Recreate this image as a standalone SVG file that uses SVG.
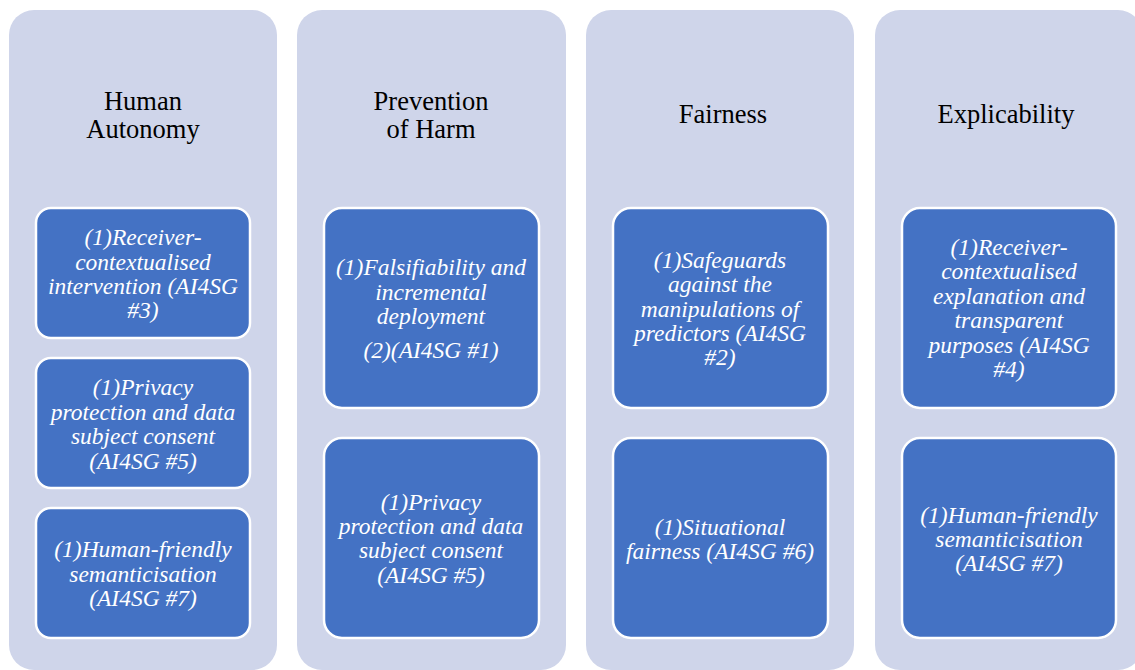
<svg xmlns="http://www.w3.org/2000/svg" width="1135" height="670" viewBox="0 0 1135 670">
<style>
.col{fill:#CFD5EA;}
.box{fill:#4472C4;stroke:#FFFFFF;stroke-width:2.5;}
.t{font-family:"Liberation Serif","Times New Roman",serif;font-size:26.5px;fill:#000;text-anchor:middle;}
.b{font-family:"Liberation Serif","Times New Roman",serif;font-size:23.5px;font-style:italic;fill:#FFFFFF;text-anchor:middle;}
</style>
<rect width="1135" height="670" fill="#FFFFFF"/>
<g id="col-autonomy">
<rect class="col" x="9" y="10" width="268" height="660" rx="25"/>
<text class="t" x="143" y="110">Human</text>
<text class="t" x="143" y="138">Autonomy</text>
</g>
<g id="col-harm">
<rect class="col" x="297" y="10" width="269" height="660" rx="25"/>
<text class="t" x="431" y="110">Prevention</text>
<text class="t" x="431" y="138">of Harm</text>
</g>
<g id="col-fairness">
<rect class="col" x="586" y="10" width="268" height="660" rx="25"/>
<text class="t" x="723" y="123">Fairness</text>
</g>
<g id="col-explicability">
<rect class="col" x="875" y="10" width="268" height="660" rx="25"/>
<text class="t" x="1006" y="123">Explicability</text>
</g>
<g id="n-a1">
<rect class="box" x="36" y="208" width="214" height="130" rx="15"/>
<text class="b" x="143" y="245">(1)Receiver-</text>
<text class="b" x="143" y="270">contextualised</text>
<text class="b" x="143" y="294">intervention (AI4SG</text>
<text class="b" x="143" y="318">#3)</text>
</g>
<g id="n-a2">
<rect class="box" x="36" y="358" width="214" height="130" rx="15"/>
<text class="b" x="143" y="395">(1)Privacy</text>
<text class="b" x="143" y="420">protection and data</text>
<text class="b" x="143" y="444">subject consent</text>
<text class="b" x="143" y="469">(AI4SG #5)</text>
</g>
<g id="n-a3">
<rect class="box" x="36" y="508" width="214" height="130" rx="15"/>
<text class="b" x="143" y="557">(1)Human-friendly</text>
<text class="b" x="143" y="582">semanticisation</text>
<text class="b" x="143" y="606">(AI4SG #7)</text>
</g>
<g id="n-h1">
<rect class="box" x="324" y="208" width="215" height="200" rx="18"/>
<text class="b" x="431" y="275">(1)Falsifiability and</text>
<text class="b" x="431" y="300">incremental</text>
<text class="b" x="431" y="324">deployment</text>
<text class="b" x="431" y="358">(2)(AI4SG #1)</text>
</g>
<g id="n-h2">
<rect class="box" x="324" y="438" width="215" height="200" rx="18"/>
<text class="b" x="431" y="510">(1)Privacy</text>
<text class="b" x="431" y="534">protection and data</text>
<text class="b" x="431" y="558">subject consent</text>
<text class="b" x="431" y="583">(AI4SG #5)</text>
</g>
<g id="n-f1">
<rect class="box" x="613" y="208" width="215" height="200" rx="18"/>
<text class="b" x="720" y="268">(1)Safeguards</text>
<text class="b" x="720" y="292">against the</text>
<text class="b" x="720" y="317">manipulations of</text>
<text class="b" x="720" y="341">predictors (AI4SG</text>
<text class="b" x="720" y="365">#2)</text>
</g>
<g id="n-f2">
<rect class="box" x="613" y="438" width="215" height="200" rx="18"/>
<text class="b" x="720" y="535">(1)Situational</text>
<text class="b" x="720" y="559">fairness (AI4SG #6)</text>
</g>
<g id="n-e1">
<rect class="box" x="902" y="208" width="214" height="200" rx="18"/>
<text class="b" x="1009" y="255">(1)Receiver-</text>
<text class="b" x="1009" y="279">contextualised</text>
<text class="b" x="1009" y="304">explanation and</text>
<text class="b" x="1009" y="328">transparent</text>
<text class="b" x="1009" y="353">purposes (AI4SG</text>
<text class="b" x="1009" y="377">#4)</text>
</g>
<g id="n-e2">
<rect class="box" x="902" y="438" width="214" height="200" rx="18"/>
<text class="b" x="1009" y="523">(1)Human-friendly</text>
<text class="b" x="1009" y="547">semanticisation</text>
<text class="b" x="1009" y="571">(AI4SG #7)</text>
</g>
<g id="connectors"></g>
</svg>
